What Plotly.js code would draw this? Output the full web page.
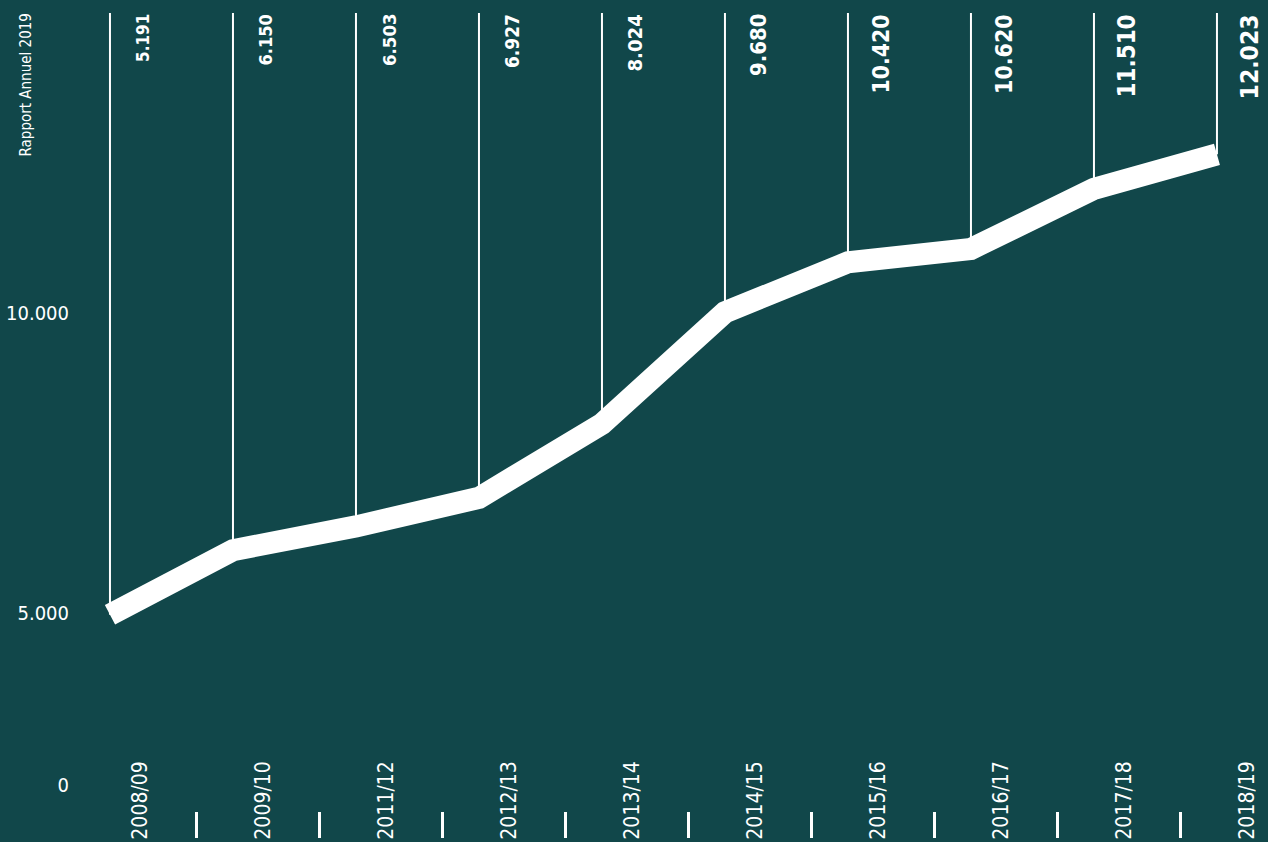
<!DOCTYPE html>
<html>
<head>
<meta charset="utf-8">
<script src="https://cdn.plot.ly/plotly-3.0.1.min.js"></script>
<style>
  html, body { margin: 0; padding: 0; background: #11474a; }
  #chart { width: 1268px; height: 842px; }
</style>
</head>
<body>
<div id="chart"></div>
<script>
// ---- data ----
const categories = ['2008/09', '2009/10', '2011/12', '2012/13', '2013/14', '2014/15', '2015/16', '2016/17', '2017/18', '2018/19'];
const values = [5191, 6150, 6503, 6927, 8024, 9680, 10420, 10620, 11510, 12023];
const valueLabels = ['5.191', '6.150', '6.503', '6.927', '8.024', '9.680', '10.420', '10.620', '11.510', '12.023'];
const yTickText = ['0', '5.000', '10.000'];
const sideTitle = 'Rapport Annuel 2019';

// ---- styling / layout ----
const BG = '#11474a';
const WHITE = '#ffffff';
const NARROW = '"Liberation Sans Narrow", "DejaVu Sans Condensed", "Arial Narrow", sans-serif';
const yRange = [1880, 14313];
const xRange = [-0.325, 9.415];
const yTop = 14120;               // top end of the thin vertical lines
const yTickPos = [2666, 5218, 9669]; // where the reference prints its axis labels

const vMin = Math.min(...values), vMax = Math.max(...values);

const traces = [
  {
    type: 'scatter', mode: 'lines',
    x: categories, y: values,
    line: { color: WHITE, width: 22 },
    hoverinfo: 'x+y', showlegend: false
  },
  {
    type: 'scatter', mode: 'lines',
    x: [], y: [], xaxis: 'x2', yaxis: 'y2',
    hoverinfo: 'skip', showlegend: false
  }
];

const shapes = categories.map((c, i) => ({
  type: 'line', xref: 'x', yref: 'y',
  x0: c, x1: c, y0: values[i], y1: yTop,
  line: { color: WHITE, width: 2 },
  layer: 'below'
}));

const annotations = categories.map((c, i) => ({
  xref: 'x', yref: 'paper',
  x: c, y: 1,
  xshift: 33, yshift: -12,
  xanchor: 'center', yanchor: 'top',
  text: '<b>' + valueLabels[i] + '</b>',
  textangle: -90,
  showarrow: false,
  font: { family: NARROW, color: WHITE, size: 17 + (values[i] - vMin) / (vMax - vMin) * 7.5 }
}));

annotations.push({
  xref: 'paper', yref: 'paper',
  x: (25 - 70) / 1198, y: 1, yshift: -12,
  xanchor: 'center', yanchor: 'top',
  text: sideTitle, textangle: -90, showarrow: false,
  font: { family: NARROW, color: WHITE, size: 15 }
});

const layout = {
  width: 1268, height: 842,
  paper_bgcolor: BG, plot_bgcolor: BG,
  margin: { l: 70, r: 0, t: 0, b: 4 },
  showlegend: false,
  xaxis: {
    type: 'category', range: xRange,
    showgrid: false, zeroline: false, showline: false, ticks: '',
    tickangle: -90, ticklabelposition: 'inside', ticklabelshift: 30, ticklabelstandoff: -12,
    tickfont: { family: NARROW, color: WHITE, size: 21 },
    fixedrange: true
  },
  xaxis2: {
    overlaying: 'x', anchor: 'y2', side: 'bottom', type: 'linear',
    range: xRange,
    tickmode: 'array', tickvals: categories.slice(0, -1).map((c, i) => i + 0.70),
    ticks: 'inside', ticklen: 26, tickwidth: 3, tickcolor: WHITE,
    showticklabels: false, showgrid: false, zeroline: false, showline: false,
    fixedrange: true
  },
  yaxis: {
    range: yRange,
    showgrid: false, zeroline: false, showline: false, ticks: '',
    showticklabels: false,
    fixedrange: true
  },
  yaxis2: {
    overlaying: 'y', anchor: 'x2', side: 'left',
    range: yRange,
    showgrid: false, zeroline: false, showline: false, ticks: '',
    tickmode: 'array', tickvals: yTickPos, ticktext: yTickText,
    tickfont: { family: NARROW, color: WHITE, size: 20 },
    fixedrange: true
  },
  shapes: shapes,
  annotations: annotations
};

Plotly.newPlot('chart', traces, layout, { displayModeBar: false, staticPlot: true });
</script>
</body>
</html>
